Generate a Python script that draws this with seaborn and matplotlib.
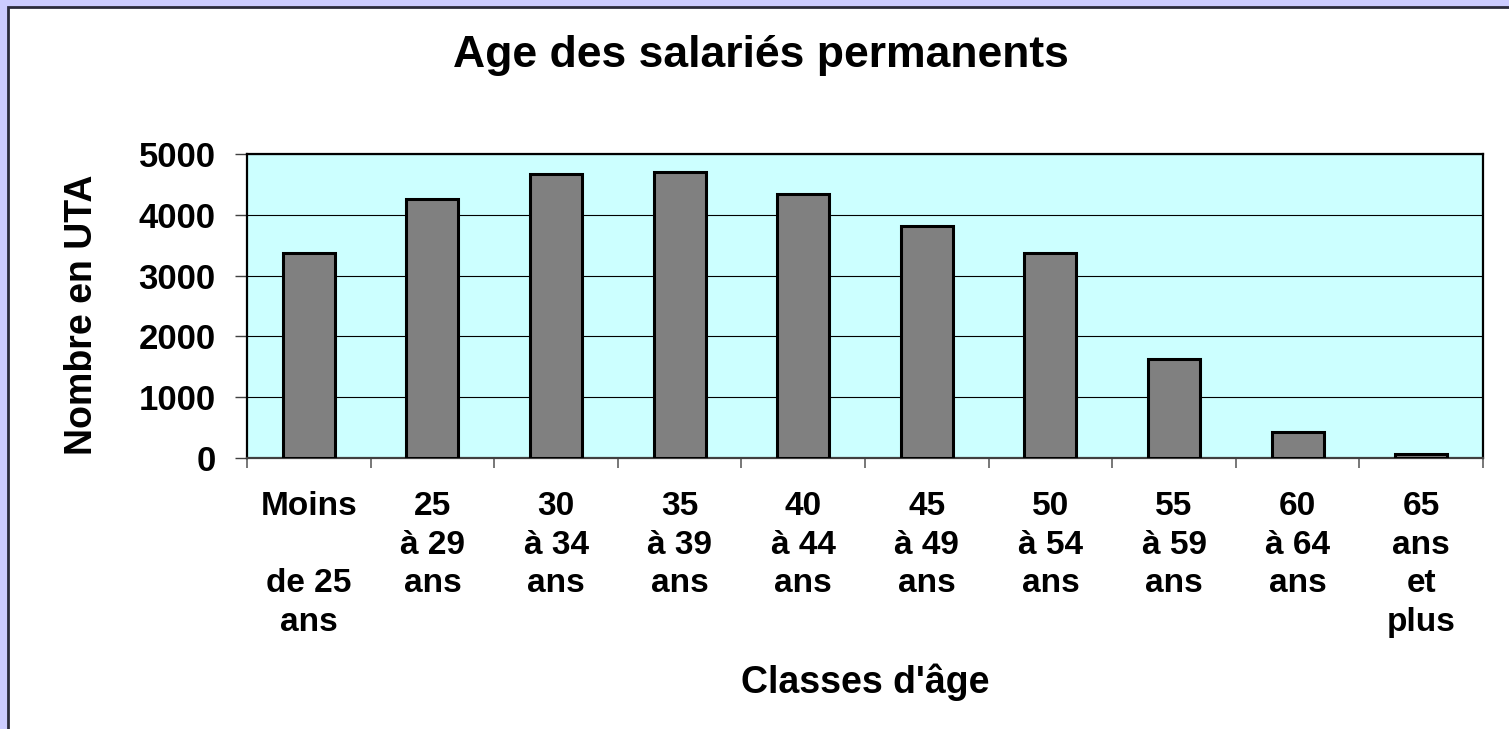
import matplotlib
matplotlib.use("Agg")
import matplotlib.pyplot as plt
import seaborn as sns
import pandas as pd
from matplotlib.patches import Rectangle
from matplotlib.ticker import MultipleLocator, FixedLocator

# data
classes = ["Moins\n\nde 25\nans", "25\nà 29\nans", "30\nà 34\nans", "35\nà 39\nans",
           "40\nà 44\nans", "45\nà 49\nans", "50\nà 54\nans", "55\nà 59\nans",
           "60\nà 64\nans", "65\nans\net\nplus"]
uta = [3366, 4262, 4675, 4708, 4345, 3812, 3366, 1622, 434, 71]
y_ticks = [0, 1000, 2000, 3000, 4000, 5000]

df = pd.DataFrame({"classe": classes, "uta": uta})

sns.set_style("white")
plt.rcParams["font.family"] = ["Liberation Sans", "DejaVu Sans"]
plt.rcParams["font.weight"] = "bold"
plt.rcParams["text.color"] = "black"
plt.rcParams["axes.labelcolor"] = "black"
plt.rcParams["xtick.color"] = "black"
plt.rcParams["ytick.color"] = "black"

W, H = 1509, 729
fig = plt.figure(figsize=(W / 100, H / 100), dpi=100)
fig.patch.set_facecolor("#ccccff")
# white panel with dark frame, behind the axes
fig.patches.append(Rectangle((7.5 / W, -0.01), 1.01, 1 - 6.5 / H + 0.01, transform=fig.transFigure,
                             facecolor="white", edgecolor="#2b2b3b", linewidth=2, zorder=-5))

ax = fig.add_axes([247 / W, 1 - 458 / H, (1483 - 247) / W, (458 - 154) / H])
ax.set_facecolor("#ccffff")

sns.barplot(data=df, x="classe", y="uta", color="#808080", width=0.42,
            edgecolor="black", linewidth=2.2, saturation=1, ax=ax, zorder=3)

ax.set_ylim(0, 5000)
ax.set_xlim(-0.5, len(classes) - 0.5)
ax.yaxis.set_major_locator(FixedLocator(y_ticks))
ax.yaxis.grid(True, color="black", linewidth=0.8)
ax.set_axisbelow(True)

for side in ["left", "top", "right"]:
    ax.spines[side].set_color("black")
    ax.spines[side].set_linewidth(1.6)
ax.spines["bottom"].set_color("#404040")
ax.spines["bottom"].set_linewidth(1.6)

ax.xaxis.set_minor_locator(MultipleLocator(1, offset=0.5))
ax.tick_params(axis="x", which="major", length=0, pad=24, labelsize=24)
ax.tick_params(axis="x", which="minor", length=7, width=1.2, color="#606060", direction="out", bottom=True)
ax.tick_params(axis="y", which="major", length=8.5, width=1, color="#404040", direction="out",
               pad=14, labelsize=25, left=True)
for lab in ax.get_xticklabels():
    lab.set_linespacing(1.31)
    lab.set_fontweight("bold")
for lab in ax.get_yticklabels():
    lab.set_fontweight("bold")

ax.set_xlabel("Classes d'âge", fontsize=27, fontweight="bold")
ax.xaxis.set_label_coords(0.5, -0.675)
ax.set_ylabel("Nombre en UTA", fontsize=27, fontweight="bold")
ax.yaxis.set_label_coords(-0.119, 0.47)

fig.text(761 / W, 1 - 66.7 / H, "Age des salariés permanents", ha="center", va="baseline",
         fontsize=32, fontweight="bold")

fig.savefig("out.png", dpi=100, facecolor=fig.get_facecolor())
